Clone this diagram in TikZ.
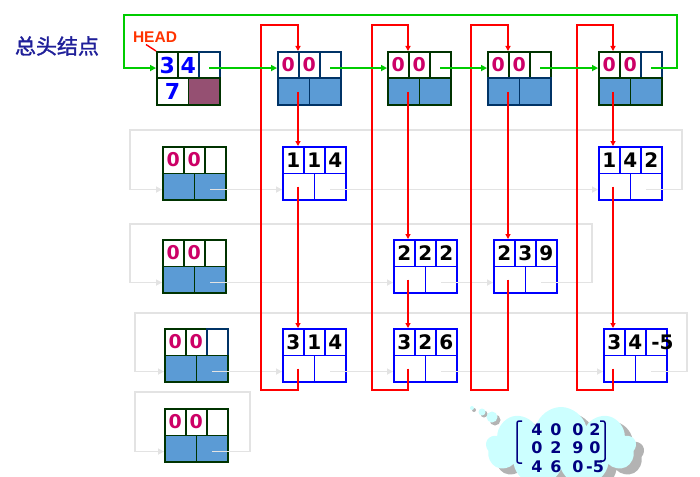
\documentclass[tikz,border=0pt]{standalone}
\usepackage{fontspec}
\usetikzlibrary{arrows.meta,shapes.symbols}
\newfontfamily\dvs{DejaVu Sans}
\newfontfamily\lsans{Liberation Sans}
\newfontfamily\cjk[FakeBold=1.5]{Noto Sans CJK SC}
\definecolor{dkgreen}{HTML}{003300}
\definecolor{navyb}{HTML}{003366}
\definecolor{cellfill}{HTML}{5B9BD5}
\definecolor{purp}{HTML}{955072}
\definecolor{mag}{HTML}{CC0066}
\definecolor{grn}{HTML}{00CC00}
\definecolor{lgray}{HTML}{E3E3E3}
\definecolor{headred}{HTML}{FF3300}
\definecolor{cjkblue}{HTML}{1F1F99}
\definecolor{mtxblue}{HTML}{000080}
\definecolor{cloudc}{HTML}{CCFFFF}
\definecolor{shad}{HTML}{B3B3B3}
\newcommand\rec[9]{%
\node[cell,#7,minimum width=21pt] (#1-a) at (#2,#3) {#4};
\node[cell,#7,minimum width=21pt] (#1-b) at (#2+21,#3) {#5};
\node[cell,#7,#8,minimum width=21pt] (#1-c) at (#2+42,#3) {#6};
\node[cell,#9,minimum width=31.5pt] (#1-d) at (#2,#3+26.5) {};
\node[cell,#9,minimum width=31.5pt] (#1-e) at (#2+31.5,#3+26.5) {};
}
\tikzset{
 cell/.style={draw, line width=1.6pt, inner sep=0pt, minimum height=26.5pt, anchor=north west},
 zt/.style={draw=dkgreen, text=mag, font=\dvs\bfseries\fontsize{19}{19}\selectfont},
 et/.style={draw=blue, text=black, font=\dvs\bfseries\fontsize{20}{20}\selectfont},
 bf/.style={draw=dkgreen, fill=cellfill},
 eb/.style={draw=blue},
 ht/.style={draw=dkgreen, text=blue, font=\dvs\bfseries\fontsize{22}{22}\selectfont},
 redarr/.style={draw=red, line width=1.6pt, -{Triangle[length=5pt,width=5pt]}},
 grnarr/.style={draw=grn, line width=1.6pt, -{Triangle[length=6pt,width=6pt]}},
 grayarr/.style={draw=lgray, line width=1.8pt, -{Triangle[length=6pt,width=6pt]}},
 brk/.style={draw=mtxblue, line width=1.5pt, rounded corners=2pt},
 bub/.style={circle, inner sep=0pt, fill=cloudc},
 bubsh/.style={circle, inner sep=0pt, fill=shad},
}
\begin{document}
\begin{tikzpicture}[x=1pt,y=-1pt]
\useasboundingbox (0,0) rectangle (700,476);
\clip (0,0) rectangle (700,476);

% titles
\node[text=cjkblue, font=\cjk\fontsize{21}{21}\selectfont] (title) at (57,46) {总头结点};
\node[text=headred, inner sep=0pt, font=\lsans\bfseries\fontsize{15.5}{15.5}\selectfont] (hdlbl) at (155,37) {HEAD};

% head node
\node[cell,ht,minimum width=21pt] (hd-a) at (156,51) {3};
\node[cell,ht,minimum width=21pt] (hd-b) at (177,51) {4};
\node[cell,ht,draw=navyb,minimum width=21pt] (hd-c) at (198,51) {};
\node[cell,ht,minimum width=31.5pt] (hd-d) at (156,77.5) {7};
\node[cell,draw=dkgreen,fill=purp,minimum width=31.5pt] (hd-e) at (187.5,77.5) {};

% column heads
\rec{c1}{277}{51}{0}{0}{}{zt,draw=navyb}{}{bf,draw=navyb}
\rec{c2}{387}{51}{0}{0}{}{zt}{}{bf}
\rec{c3}{487}{51}{0}{0}{}{zt}{}{bf,draw=navyb}
\rec{c4}{598}{51}{0}{0}{}{zt}{draw=navyb}{bf}

% row heads
\rec{r1}{162}{146}{0}{0}{}{zt}{}{bf}
\rec{r2}{162}{239}{0}{0}{}{zt}{}{bf}
\rec{r3}{164}{328}{0}{0}{}{zt}{draw=navyb}{bf}
\rec{r4}{164}{408}{0}{0}{}{zt}{}{bf}

% elements
\rec{e114}{282}{146}{1}{1}{4}{et}{}{eb}
\rec{e142}{598}{146}{1}{4}{2}{et}{}{eb}
\rec{e222}{393}{239}{2}{2}{2}{et}{}{eb}
\rec{e239}{493}{239}{2}{3}{9}{et}{}{eb}
\rec{e314}{282}{328}{3}{1}{4}{et}{}{eb}
\rec{e326}{393}{328}{3}{2}{6}{et}{}{eb}
\rec{e34}{603}{328}{3}{4}{\makebox[10pt][l]{-5}}{et}{}{eb}

% corner coordinates
\coordinate (g1r) at (682,130); \coordinate (g1l) at (130,130);
\coordinate (g2r) at (592,224); \coordinate (g2l) at (130,224);
\coordinate (g3r) at (687,313); \coordinate (g3l) at (135,313);
\coordinate (g4r) at (250,392); \coordinate (g4l) at (135,392);
\coordinate (k1) at (298,25); \coordinate (b1) at (261,390);
\coordinate (k2) at (408,25); \coordinate (b2) at (372,390);
\coordinate (k3) at (508,25); \coordinate (b3) at (471,390);
\coordinate (k4) at (613,25); \coordinate (b4) at (577,390);
\coordinate (gr) at (677,15); \coordinate (gl) at (124,15);

% gray row links
\draw[grayarr] ([yshift=-3pt]r1-e.center) -- ([yshift=-3pt]e114-d.west);
\draw[grayarr] ([yshift=-3pt]e114-e.center) -- ([yshift=-3pt]e142-d.west);
\draw[grayarr] ([yshift=-3pt]e142-e.center) -| (g1r) -- (g1l) |- ([yshift=-3pt]r1-d.west);

\draw[grayarr] ([yshift=-3pt]r2-e.center) -- ([yshift=-3pt]e222-d.west);
\draw[grayarr] ([yshift=-3pt]e222-e.center) -- ([yshift=-3pt]e239-d.west);
\draw[grayarr] ([yshift=-3pt]e239-e.center) -| (g2r) -- (g2l) |- ([yshift=-3pt]r2-d.west);

\draw[grayarr] ([yshift=-3pt]r3-e.center) -- ([yshift=-3pt]e314-d.west);
\draw[grayarr] ([yshift=-3pt]e314-e.center) -- ([yshift=-3pt]e326-d.west);
\draw[grayarr] ([yshift=-3pt]e326-e.center) -- ([yshift=-3pt]e34-d.west);
\draw[grayarr] ([yshift=-3pt]e34-e.center) -| (g3r) -- (g3l) |- ([yshift=-3pt]r3-d.west);

\draw[grayarr] ([yshift=-3pt]r4-e.center) -| (g4r) -- (g4l) |- ([yshift=-3pt]r4-d.west);

% red column links
\draw[redarr] (k1 |- c1-d.center) -- (k1 |- e114-a.north);
\draw[redarr] (k1 |- e114-d.center) -- (k1 |- e314-a.north);
\draw[redarr] (k1 |- e314-d.center) |- (b1) |- (k1) -- (k1 |- c1-a.north);

\draw[redarr] (k2 |- c2-d.center) -- (k2 |- e222-a.north);
\draw[redarr] (k2 |- e222-d.center) -- (k2 |- e326-a.north);
\draw[redarr] (k2 |- e326-d.center) |- (b2) |- (k2) -- (k2 |- c2-a.north);

\draw[redarr] (k3 |- c3-d.center) -- (k3 |- e239-a.north);
\draw[redarr] (k3 |- e239-d.center) |- (b3) |- (k3) -- (k3 |- c3-a.north);

\draw[redarr] (k4 |- c4-d.center) -- (k4 |- e142-a.north);
\draw[redarr] (k4 |- e142-d.center) -- (k4 |- e34-a.north);
\draw[redarr] (k4 |- e34-d.center) |- (b4) |- (k4) -- (k4 |- c4-a.north);

% green head links
\draw[grnarr] ([yshift=-3pt]hd-c.center) -- ([yshift=-3pt]c1-a.west);
\draw[grnarr] ([yshift=-3pt]c1-c.center) -- ([yshift=-3pt]c2-a.west);
\draw[grnarr] ([yshift=-3pt]c2-c.center) -- ([yshift=-3pt]c3-a.west);
\draw[grnarr] ([yshift=-3pt]c3-c.center) -- ([yshift=-3pt]c4-a.west);
\draw[grnarr] ([yshift=-3pt]c4-c.center) -| (gr) -- (gl) |- ([yshift=-3pt]hd-a.west);

% HEAD pointer
\draw[draw=red, line width=1.4pt] ([xshift=-9pt,yshift=-2pt]hdlbl.south) -- (hd-a.north west);

% cloud
\node[cloud, cloud puffs=9, aspect=2, fill=shad, minimum width=150pt, minimum height=80pt] (cloudsh) at (569,453) {};
\node[cloud, cloud puffs=9, aspect=2, fill=cloudc, minimum width=150pt, minimum height=80pt] (cloudn) at (561,447) {};
\node[bubsh, minimum size=4pt] (bs1) at (474,410) {};
\node[bub, minimum size=4pt] (bb1) at (472,408) {};
\node[bubsh, minimum size=7pt] (bs2) at (484,414) {};
\node[bub, minimum size=7pt] (bb2) at (482,412) {};
\node[bubsh, minimum size=11pt] (bs3) at (495,420) {};
\node[bub, minimum size=11pt] (bb3) at (492,417) {};

\node[font=\dvs\bfseries\fontsize{16}{18.5}\selectfont, text=mtxblue, align=left, inner sep=0pt] (mat) at (564,448)
 {\makebox[18pt]{4}\makebox[20pt]{0}\makebox[24pt]{0}\makebox[10pt]{2}\\
  \makebox[18pt]{0}\makebox[20pt]{2}\makebox[24pt]{9}\makebox[10pt]{0}\\
  \makebox[18pt]{4}\makebox[20pt]{6}\makebox[24pt]{0}\makebox[10pt]{-5}};
\draw[brk] (522,421) -- (517,421) -- (517,463) -- (522,463);
\draw[brk] (600,421) -- (605,421) -- (605,461) -- (600,461);
\end{tikzpicture}
\end{document}
